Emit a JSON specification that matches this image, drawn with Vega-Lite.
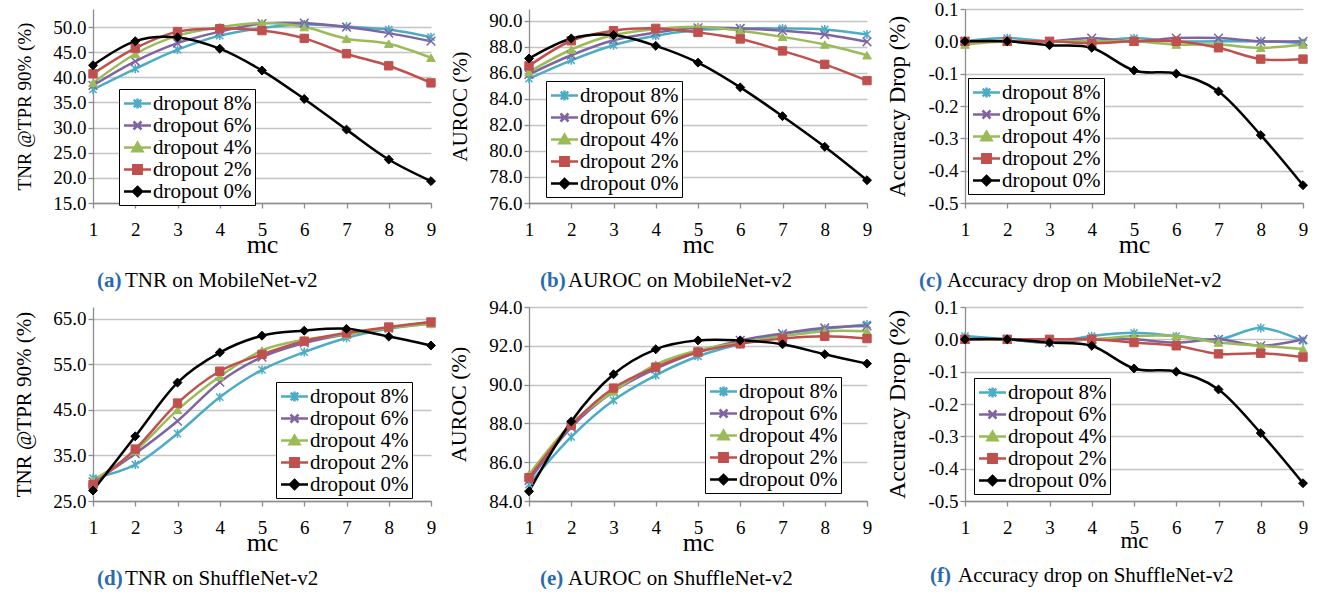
{
  "$schema": "https://vega.github.io/schema/vega-lite/v6.json",
  "background": "white",
  "padding": {"left": 13, "top": 0, "right": 0, "bottom": 0},
  "params": [
    {"name": "legshape", "value": {
      "dropout 8%": "M-1.35,0L1.35,0M-0.38,-0.38L0.38,0.38M-0.38,0.38L0.38,-0.38M0,-0.5L0,0.5",
      "dropout 6%": "M-1.35,0L1.35,0M-0.4,-0.4L0.4,0.4M-0.4,0.4L0.4,-0.4",
      "dropout 4%": "M-1.35,0L1.35,0M0,-0.48L0.5,0.38L-0.5,0.38Z",
      "dropout 2%": "M-1.35,0L1.35,0M-0.42,-0.42L0.42,-0.42L0.42,0.42L-0.42,0.42Z",
      "dropout 0%": "M-1.35,0L1.35,0M0,-0.45L0.45,0L0,0.45L-0.45,0Z"}},
    {"name": "legcolor", "value": {
      "dropout 8%": "#4BACC6", "dropout 6%": "#8064A2", "dropout 4%": "#9BBB59", "dropout 2%": "#C0504D", "dropout 0%": "#000000"}}
  ],
  "data": {"values": [
    {"p":"a","s":"dropout 8%","mc":1,"v":37.6},{"p":"a","s":"dropout 8%","mc":2,"v":41.7},{"p":"a","s":"dropout 8%","mc":3,"v":45.5},{"p":"a","s":"dropout 8%","mc":4,"v":48.3},{"p":"a","s":"dropout 8%","mc":5,"v":49.8},{"p":"a","s":"dropout 8%","mc":6,"v":50.5},{"p":"a","s":"dropout 8%","mc":7,"v":50.1},{"p":"a","s":"dropout 8%","mc":8,"v":49.5},{"p":"a","s":"dropout 8%","mc":9,"v":48.0},
    {"p":"a","s":"dropout 6%","mc":1,"v":38.4},{"p":"a","s":"dropout 6%","mc":2,"v":43.2},{"p":"a","s":"dropout 6%","mc":3,"v":46.8},{"p":"a","s":"dropout 6%","mc":4,"v":49.1},{"p":"a","s":"dropout 6%","mc":5,"v":50.7},{"p":"a","s":"dropout 6%","mc":6,"v":50.8},{"p":"a","s":"dropout 6%","mc":7,"v":50.0},{"p":"a","s":"dropout 6%","mc":8,"v":48.8},{"p":"a","s":"dropout 6%","mc":9,"v":47.2},
    {"p":"a","s":"dropout 4%","mc":1,"v":38.9},{"p":"a","s":"dropout 4%","mc":2,"v":44.65},{"p":"a","s":"dropout 4%","mc":3,"v":48.3},{"p":"a","s":"dropout 4%","mc":4,"v":50.0},{"p":"a","s":"dropout 4%","mc":5,"v":50.8},{"p":"a","s":"dropout 4%","mc":6,"v":50.0},{"p":"a","s":"dropout 4%","mc":7,"v":47.7},{"p":"a","s":"dropout 4%","mc":8,"v":46.7},{"p":"a","s":"dropout 4%","mc":9,"v":43.9},
    {"p":"a","s":"dropout 2%","mc":1,"v":40.7},{"p":"a","s":"dropout 2%","mc":2,"v":45.8},{"p":"a","s":"dropout 2%","mc":3,"v":49.1},{"p":"a","s":"dropout 2%","mc":4,"v":49.7},{"p":"a","s":"dropout 2%","mc":5,"v":49.3},{"p":"a","s":"dropout 2%","mc":6,"v":47.75},{"p":"a","s":"dropout 2%","mc":7,"v":44.7},{"p":"a","s":"dropout 2%","mc":8,"v":42.3},{"p":"a","s":"dropout 2%","mc":9,"v":38.9},
    {"p":"a","s":"dropout 0%","mc":1,"v":42.4},{"p":"a","s":"dropout 0%","mc":2,"v":47.2},{"p":"a","s":"dropout 0%","mc":3,"v":47.95},{"p":"a","s":"dropout 0%","mc":4,"v":45.7},{"p":"a","s":"dropout 0%","mc":5,"v":41.35},{"p":"a","s":"dropout 0%","mc":6,"v":35.7},{"p":"a","s":"dropout 0%","mc":7,"v":29.6},{"p":"a","s":"dropout 0%","mc":8,"v":23.65},{"p":"a","s":"dropout 0%","mc":9,"v":19.35},

    {"p":"b","s":"dropout 8%","mc":1,"v":85.55},{"p":"b","s":"dropout 8%","mc":2,"v":86.96},{"p":"b","s":"dropout 8%","mc":3,"v":88.12},{"p":"b","s":"dropout 8%","mc":4,"v":88.84},{"p":"b","s":"dropout 8%","mc":5,"v":89.28},{"p":"b","s":"dropout 8%","mc":6,"v":89.41},{"p":"b","s":"dropout 8%","mc":7,"v":89.41},{"p":"b","s":"dropout 8%","mc":8,"v":89.33},{"p":"b","s":"dropout 8%","mc":9,"v":88.94},
    {"p":"b","s":"dropout 6%","mc":1,"v":85.88},{"p":"b","s":"dropout 6%","mc":2,"v":87.35},{"p":"b","s":"dropout 6%","mc":3,"v":88.5},{"p":"b","s":"dropout 6%","mc":4,"v":89.1},{"p":"b","s":"dropout 6%","mc":5,"v":89.46},{"p":"b","s":"dropout 6%","mc":6,"v":89.41},{"p":"b","s":"dropout 6%","mc":7,"v":89.23},{"p":"b","s":"dropout 6%","mc":8,"v":88.94},{"p":"b","s":"dropout 6%","mc":9,"v":88.38},
    {"p":"b","s":"dropout 4%","mc":1,"v":86.06},{"p":"b","s":"dropout 4%","mc":2,"v":87.79},{"p":"b","s":"dropout 4%","mc":3,"v":88.9},{"p":"b","s":"dropout 4%","mc":4,"v":89.36},{"p":"b","s":"dropout 4%","mc":5,"v":89.54},{"p":"b","s":"dropout 4%","mc":6,"v":89.23},{"p":"b","s":"dropout 4%","mc":7,"v":88.76},{"p":"b","s":"dropout 4%","mc":8,"v":88.17},{"p":"b","s":"dropout 4%","mc":9,"v":87.35},
    {"p":"b","s":"dropout 2%","mc":1,"v":86.53},{"p":"b","s":"dropout 2%","mc":2,"v":88.46},{"p":"b","s":"dropout 2%","mc":3,"v":89.23},{"p":"b","s":"dropout 2%","mc":4,"v":89.41},{"p":"b","s":"dropout 2%","mc":5,"v":89.1},{"p":"b","s":"dropout 2%","mc":6,"v":88.6},{"p":"b","s":"dropout 2%","mc":7,"v":87.68},{"p":"b","s":"dropout 2%","mc":8,"v":86.65},{"p":"b","s":"dropout 2%","mc":9,"v":85.4},
    {"p":"b","s":"dropout 0%","mc":1,"v":87.1},{"p":"b","s":"dropout 0%","mc":2,"v":88.64},{"p":"b","s":"dropout 0%","mc":3,"v":88.9},{"p":"b","s":"dropout 0%","mc":4,"v":88.07},{"p":"b","s":"dropout 0%","mc":5,"v":86.78},{"p":"b","s":"dropout 0%","mc":6,"v":84.88},{"p":"b","s":"dropout 0%","mc":7,"v":82.67},{"p":"b","s":"dropout 0%","mc":8,"v":80.32},{"p":"b","s":"dropout 0%","mc":9,"v":77.75},

    {"p":"c","s":"dropout 8%","mc":1,"v":0},{"p":"c","s":"dropout 8%","mc":2,"v":0.01},{"p":"c","s":"dropout 8%","mc":3,"v":0},{"p":"c","s":"dropout 8%","mc":4,"v":0},{"p":"c","s":"dropout 8%","mc":5,"v":0.01},{"p":"c","s":"dropout 8%","mc":6,"v":0},{"p":"c","s":"dropout 8%","mc":7,"v":0},{"p":"c","s":"dropout 8%","mc":8,"v":0},{"p":"c","s":"dropout 8%","mc":9,"v":-0.005},
    {"p":"c","s":"dropout 6%","mc":1,"v":0},{"p":"c","s":"dropout 6%","mc":2,"v":0},{"p":"c","s":"dropout 6%","mc":3,"v":0},{"p":"c","s":"dropout 6%","mc":4,"v":0.01},{"p":"c","s":"dropout 6%","mc":5,"v":0},{"p":"c","s":"dropout 6%","mc":6,"v":0.01},{"p":"c","s":"dropout 6%","mc":7,"v":0.01},{"p":"c","s":"dropout 6%","mc":8,"v":0},{"p":"c","s":"dropout 6%","mc":9,"v":0},
    {"p":"c","s":"dropout 4%","mc":1,"v":-0.01},{"p":"c","s":"dropout 4%","mc":2,"v":0},{"p":"c","s":"dropout 4%","mc":3,"v":0},{"p":"c","s":"dropout 4%","mc":4,"v":0},{"p":"c","s":"dropout 4%","mc":5,"v":0},{"p":"c","s":"dropout 4%","mc":6,"v":-0.01},{"p":"c","s":"dropout 4%","mc":7,"v":-0.01},{"p":"c","s":"dropout 4%","mc":8,"v":-0.02},{"p":"c","s":"dropout 4%","mc":9,"v":-0.01},
    {"p":"c","s":"dropout 2%","mc":1,"v":0},{"p":"c","s":"dropout 2%","mc":2,"v":0},{"p":"c","s":"dropout 2%","mc":3,"v":0},{"p":"c","s":"dropout 2%","mc":4,"v":-0.006},{"p":"c","s":"dropout 2%","mc":5,"v":0},{"p":"c","s":"dropout 2%","mc":6,"v":0},{"p":"c","s":"dropout 2%","mc":7,"v":-0.02},{"p":"c","s":"dropout 2%","mc":8,"v":-0.055},{"p":"c","s":"dropout 2%","mc":9,"v":-0.055},
    {"p":"c","s":"dropout 0%","mc":1,"v":0},{"p":"c","s":"dropout 0%","mc":2,"v":0},{"p":"c","s":"dropout 0%","mc":3,"v":-0.012},{"p":"c","s":"dropout 0%","mc":4,"v":-0.02},{"p":"c","s":"dropout 0%","mc":5,"v":-0.09},{"p":"c","s":"dropout 0%","mc":6,"v":-0.1},{"p":"c","s":"dropout 0%","mc":7,"v":-0.155},{"p":"c","s":"dropout 0%","mc":8,"v":-0.29},{"p":"c","s":"dropout 0%","mc":9,"v":-0.445},

    {"p":"d","s":"dropout 8%","mc":1,"v":30.0},{"p":"d","s":"dropout 8%","mc":2,"v":33.0},{"p":"d","s":"dropout 8%","mc":3,"v":39.8},{"p":"d","s":"dropout 8%","mc":4,"v":47.8},{"p":"d","s":"dropout 8%","mc":5,"v":53.8},{"p":"d","s":"dropout 8%","mc":6,"v":57.7},{"p":"d","s":"dropout 8%","mc":7,"v":60.8},{"p":"d","s":"dropout 8%","mc":8,"v":62.8},{"p":"d","s":"dropout 8%","mc":9,"v":63.9},
    {"p":"d","s":"dropout 6%","mc":1,"v":29.2},{"p":"d","s":"dropout 6%","mc":2,"v":35.4},{"p":"d","s":"dropout 6%","mc":3,"v":42.55},{"p":"d","s":"dropout 6%","mc":4,"v":51.1},{"p":"d","s":"dropout 6%","mc":5,"v":56.6},{"p":"d","s":"dropout 6%","mc":6,"v":59.7},{"p":"d","s":"dropout 6%","mc":7,"v":61.6},{"p":"d","s":"dropout 6%","mc":8,"v":63.0},{"p":"d","s":"dropout 6%","mc":9,"v":64.3},
    {"p":"d","s":"dropout 4%","mc":1,"v":29.5},{"p":"d","s":"dropout 4%","mc":2,"v":36.0},{"p":"d","s":"dropout 4%","mc":3,"v":45.0},{"p":"d","s":"dropout 4%","mc":4,"v":52.35},{"p":"d","s":"dropout 4%","mc":5,"v":58.05},{"p":"d","s":"dropout 4%","mc":6,"v":60.4},{"p":"d","s":"dropout 4%","mc":7,"v":61.6},{"p":"d","s":"dropout 4%","mc":8,"v":63.0},{"p":"d","s":"dropout 4%","mc":9,"v":63.9},
    {"p":"d","s":"dropout 2%","mc":1,"v":28.6},{"p":"d","s":"dropout 2%","mc":2,"v":36.4},{"p":"d","s":"dropout 2%","mc":3,"v":46.5},{"p":"d","s":"dropout 2%","mc":4,"v":53.5},{"p":"d","s":"dropout 2%","mc":5,"v":57.2},{"p":"d","s":"dropout 2%","mc":6,"v":60.1},{"p":"d","s":"dropout 2%","mc":7,"v":61.9},{"p":"d","s":"dropout 2%","mc":8,"v":63.2},{"p":"d","s":"dropout 2%","mc":9,"v":64.3},
    {"p":"d","s":"dropout 0%","mc":1,"v":27.3},{"p":"d","s":"dropout 0%","mc":2,"v":39.2},{"p":"d","s":"dropout 0%","mc":3,"v":51.0},{"p":"d","s":"dropout 0%","mc":4,"v":57.6},{"p":"d","s":"dropout 0%","mc":5,"v":61.3},{"p":"d","s":"dropout 0%","mc":6,"v":62.4},{"p":"d","s":"dropout 0%","mc":7,"v":62.8},{"p":"d","s":"dropout 0%","mc":8,"v":61.1},{"p":"d","s":"dropout 0%","mc":9,"v":59.15},

    {"p":"e","s":"dropout 8%","mc":1,"v":84.86},{"p":"e","s":"dropout 8%","mc":2,"v":87.3},{"p":"e","s":"dropout 8%","mc":3,"v":89.19},{"p":"e","s":"dropout 8%","mc":4,"v":90.48},{"p":"e","s":"dropout 8%","mc":5,"v":91.46},{"p":"e","s":"dropout 8%","mc":6,"v":92.1},{"p":"e","s":"dropout 8%","mc":7,"v":92.6},{"p":"e","s":"dropout 8%","mc":8,"v":92.88},{"p":"e","s":"dropout 8%","mc":9,"v":93.1},
    {"p":"e","s":"dropout 6%","mc":1,"v":85.06},{"p":"e","s":"dropout 6%","mc":2,"v":87.8},{"p":"e","s":"dropout 6%","mc":3,"v":89.65},{"p":"e","s":"dropout 6%","mc":4,"v":90.82},{"p":"e","s":"dropout 6%","mc":5,"v":91.68},{"p":"e","s":"dropout 6%","mc":6,"v":92.28},{"p":"e","s":"dropout 6%","mc":7,"v":92.63},{"p":"e","s":"dropout 6%","mc":8,"v":92.93},{"p":"e","s":"dropout 6%","mc":9,"v":93.02},
    {"p":"e","s":"dropout 4%","mc":1,"v":85.37},{"p":"e","s":"dropout 4%","mc":2,"v":87.98},{"p":"e","s":"dropout 4%","mc":3,"v":89.65},{"p":"e","s":"dropout 4%","mc":4,"v":91.03},{"p":"e","s":"dropout 4%","mc":5,"v":91.77},{"p":"e","s":"dropout 4%","mc":6,"v":92.16},{"p":"e","s":"dropout 4%","mc":7,"v":92.49},{"p":"e","s":"dropout 4%","mc":8,"v":92.75},{"p":"e","s":"dropout 4%","mc":9,"v":92.75},
    {"p":"e","s":"dropout 2%","mc":1,"v":85.2},{"p":"e","s":"dropout 2%","mc":2,"v":87.9},{"p":"e","s":"dropout 2%","mc":3,"v":89.82},{"p":"e","s":"dropout 2%","mc":4,"v":90.9},{"p":"e","s":"dropout 2%","mc":5,"v":91.68},{"p":"e","s":"dropout 2%","mc":6,"v":92.1},{"p":"e","s":"dropout 2%","mc":7,"v":92.37},{"p":"e","s":"dropout 2%","mc":8,"v":92.49},{"p":"e","s":"dropout 2%","mc":9,"v":92.37},
    {"p":"e","s":"dropout 0%","mc":1,"v":84.5},{"p":"e","s":"dropout 0%","mc":2,"v":88.1},{"p":"e","s":"dropout 0%","mc":3,"v":90.53},{"p":"e","s":"dropout 0%","mc":4,"v":91.82},{"p":"e","s":"dropout 0%","mc":5,"v":92.28},{"p":"e","s":"dropout 0%","mc":6,"v":92.28},{"p":"e","s":"dropout 0%","mc":7,"v":92.08},{"p":"e","s":"dropout 0%","mc":8,"v":91.56},{"p":"e","s":"dropout 0%","mc":9,"v":91.08},

    {"p":"f","s":"dropout 8%","mc":1,"v":0.01},{"p":"f","s":"dropout 8%","mc":2,"v":0},{"p":"f","s":"dropout 8%","mc":3,"v":-0.01},{"p":"f","s":"dropout 8%","mc":4,"v":0.01},{"p":"f","s":"dropout 8%","mc":5,"v":0.02},{"p":"f","s":"dropout 8%","mc":6,"v":0.01},{"p":"f","s":"dropout 8%","mc":7,"v":0},{"p":"f","s":"dropout 8%","mc":8,"v":0.035},{"p":"f","s":"dropout 8%","mc":9,"v":-0.005},
    {"p":"f","s":"dropout 6%","mc":1,"v":0},{"p":"f","s":"dropout 6%","mc":2,"v":0},{"p":"f","s":"dropout 6%","mc":3,"v":-0.01},{"p":"f","s":"dropout 6%","mc":4,"v":0},{"p":"f","s":"dropout 6%","mc":5,"v":0},{"p":"f","s":"dropout 6%","mc":6,"v":-0.01},{"p":"f","s":"dropout 6%","mc":7,"v":0},{"p":"f","s":"dropout 6%","mc":8,"v":-0.02},{"p":"f","s":"dropout 6%","mc":9,"v":0},
    {"p":"f","s":"dropout 4%","mc":1,"v":0},{"p":"f","s":"dropout 4%","mc":2,"v":0},{"p":"f","s":"dropout 4%","mc":3,"v":0},{"p":"f","s":"dropout 4%","mc":4,"v":0},{"p":"f","s":"dropout 4%","mc":5,"v":0.01},{"p":"f","s":"dropout 4%","mc":6,"v":0.01},{"p":"f","s":"dropout 4%","mc":7,"v":-0.01},{"p":"f","s":"dropout 4%","mc":8,"v":-0.02},{"p":"f","s":"dropout 4%","mc":9,"v":-0.03},
    {"p":"f","s":"dropout 2%","mc":1,"v":0},{"p":"f","s":"dropout 2%","mc":2,"v":0},{"p":"f","s":"dropout 2%","mc":3,"v":0},{"p":"f","s":"dropout 2%","mc":4,"v":0},{"p":"f","s":"dropout 2%","mc":5,"v":-0.01},{"p":"f","s":"dropout 2%","mc":6,"v":-0.02},{"p":"f","s":"dropout 2%","mc":7,"v":-0.045},{"p":"f","s":"dropout 2%","mc":8,"v":-0.043},{"p":"f","s":"dropout 2%","mc":9,"v":-0.055},
    {"p":"f","s":"dropout 0%","mc":1,"v":0},{"p":"f","s":"dropout 0%","mc":2,"v":0},{"p":"f","s":"dropout 0%","mc":3,"v":-0.01},{"p":"f","s":"dropout 0%","mc":4,"v":-0.02},{"p":"f","s":"dropout 0%","mc":5,"v":-0.09},{"p":"f","s":"dropout 0%","mc":6,"v":-0.1},{"p":"f","s":"dropout 0%","mc":7,"v":-0.155},{"p":"f","s":"dropout 0%","mc":8,"v":-0.29},{"p":"f","s":"dropout 0%","mc":9,"v":-0.445}
  ]},
  "columns": 3,
  "bounds": "flush",
  "spacing": {"row": 104, "column": 98},
  "resolve": {"scale": {"color": "independent"}, "legend": {"color": "independent"}},
  "concat": [
    {
      "width": 338, "height": 194,
      "transform": [{"filter": "datum.p === 'a'"}],
      "title": {"text": "(a)", "subtitle": "\u200b\u00a0\u00a0\u00a0\u00a0\u00a0\u200aTNR on MobileNet-v2", "dx": 4},
      "encoding": {
        "x": {"field": "mc", "type": "quantitative", "scale": {"domain": [1, 9], "nice": false, "zero": false}, "axis": {"title": "mc", "values": [1,2,3,4,5,6,7,8,9], "format": "d"}},
        "y": {"field": "v", "type": "quantitative", "scale": {"domain": [15, 53.6], "nice": false, "zero": false}, "axis": {"title": "TNR @TPR 90% (%)", "titleFontSize": 19, "values": [15,20,25,30,35,40,45,50], "format": ".1f"}}
      },
      "layer": [
        {"mark": {"type": "line", "interpolate": "cardinal", "strokeWidth": 2.5},
         "encoding": {"color": {"field": "s", "type": "nominal", "scale": {"domain": ["dropout 8%","dropout 6%","dropout 4%","dropout 2%","dropout 0%"], "range": ["#4BACC6","#8064A2","#9BBB59","#C0504D","#000000"]},
           "legend": {"orient": "none", "legendX": 26, "legendY": 80, "encode": {"symbols": {"update": {"shape": {"signal": "legshape[datum.value]"}, "fill": {"signal": "legcolor[datum.value]"}, "stroke": {"signal": "legcolor[datum.value]"}}}}}}}},
        {"transform": [{"filter": "datum.s === 'dropout 8%'"}], "mark": {"type": "point", "shape": "M-0.8,-0.8L0.8,0.8M-0.8,0.8L0.8,-0.8M0,-1L0,1", "filled": false, "stroke": "#4BACC6", "size": 80, "strokeWidth": 1.5, "opacity": 1}},
        {"transform": [{"filter": "datum.s === 'dropout 6%'"}], "mark": {"type": "point", "shape": "M-1,-1L1,1M-1,1L1,-1", "filled": false, "stroke": "#8064A2", "size": 75, "strokeWidth": 1.5, "opacity": 1}},
        {"transform": [{"filter": "datum.s === 'dropout 4%'"}], "mark": {"type": "point", "shape": "triangle-up", "filled": true, "fill": "#9BBB59", "stroke": "#9BBB59", "size": 75, "strokeWidth": 1, "opacity": 1}},
        {"transform": [{"filter": "datum.s === 'dropout 2%'"}], "mark": {"type": "point", "shape": "square", "filled": true, "fill": "#C0504D", "stroke": "#C0504D", "size": 70, "strokeWidth": 1, "opacity": 1}},
        {"transform": [{"filter": "datum.s === 'dropout 0%'"}], "mark": {"type": "point", "shape": "diamond", "filled": true, "fill": "#000000", "stroke": "#000000", "size": 80, "strokeWidth": 1, "opacity": 1}}
      ]
    },
    {
      "width": 338, "height": 194,
      "transform": [{"filter": "datum.p === 'b'"}],
      "title": {"text": "(b)", "subtitle": "\u200b\u00a0\u00a0\u00a0\u00a0\u00a0\u200aAUROC on MobileNet-v2", "dx": 11},
      "encoding": {
        "x": {"field": "mc", "type": "quantitative", "scale": {"domain": [1, 9], "nice": false, "zero": false}, "axis": {"title": "mc", "values": [1,2,3,4,5,6,7,8,9], "format": "d"}},
        "y": {"field": "v", "type": "quantitative", "scale": {"domain": [76, 90.9], "nice": false, "zero": false}, "axis": {"title": "AUROC (%)", "titleFontSize": 21, "values": [76,78,80,82,84,86,88,90], "format": ".1f"}}
      },
      "layer": [
        {"mark": {"type": "line", "interpolate": "cardinal", "strokeWidth": 2.5},
         "encoding": {"color": {"field": "s", "type": "nominal", "scale": {"domain": ["dropout 8%","dropout 6%","dropout 4%","dropout 2%","dropout 0%"], "range": ["#4BACC6","#8064A2","#9BBB59","#C0504D","#000000"]},
           "legend": {"orient": "none", "legendX": 17, "legendY": 72, "encode": {"symbols": {"update": {"shape": {"signal": "legshape[datum.value]"}, "fill": {"signal": "legcolor[datum.value]"}, "stroke": {"signal": "legcolor[datum.value]"}}}}}}}},
        {"transform": [{"filter": "datum.s === 'dropout 8%'"}], "mark": {"type": "point", "shape": "M-0.8,-0.8L0.8,0.8M-0.8,0.8L0.8,-0.8M0,-1L0,1", "filled": false, "stroke": "#4BACC6", "size": 80, "strokeWidth": 1.5, "opacity": 1}},
        {"transform": [{"filter": "datum.s === 'dropout 6%'"}], "mark": {"type": "point", "shape": "M-1,-1L1,1M-1,1L1,-1", "filled": false, "stroke": "#8064A2", "size": 75, "strokeWidth": 1.5, "opacity": 1}},
        {"transform": [{"filter": "datum.s === 'dropout 4%'"}], "mark": {"type": "point", "shape": "triangle-up", "filled": true, "fill": "#9BBB59", "stroke": "#9BBB59", "size": 75, "strokeWidth": 1, "opacity": 1}},
        {"transform": [{"filter": "datum.s === 'dropout 2%'"}], "mark": {"type": "point", "shape": "square", "filled": true, "fill": "#C0504D", "stroke": "#C0504D", "size": 70, "strokeWidth": 1, "opacity": 1}},
        {"transform": [{"filter": "datum.s === 'dropout 0%'"}], "mark": {"type": "point", "shape": "diamond", "filled": true, "fill": "#000000", "stroke": "#000000", "size": 80, "strokeWidth": 1, "opacity": 1}}
      ]
    },
    {
      "width": 338, "height": 194,
      "transform": [{"filter": "datum.p === 'c'"}],
      "title": {"text": "(c)", "subtitle": "\u200b\u00a0\u00a0\u00a0\u00a0\u00a0\u200aAccuracy drop on MobileNet-v2", "dx": -46},
      "encoding": {
        "x": {"field": "mc", "type": "quantitative", "scale": {"domain": [1, 9], "nice": false, "zero": false}, "axis": {"title": "mc", "values": [1,2,3,4,5,6,7,8,9], "format": "d"}},
        "y": {"field": "v", "type": "quantitative", "scale": {"domain": [-0.5, 0.1], "nice": false, "zero": false}, "axis": {"title": "Accuracy Drop (%)", "titleFontSize": 23, "values": [-0.5,-0.4,-0.3,-0.2,-0.1,0,0.1], "labelExpr": "replace(format(datum.value, '.1f'), '\u2212', '-')"}}
      },
      "layer": [
        {"mark": {"type": "line", "interpolate": "cardinal", "strokeWidth": 2.5},
         "encoding": {"color": {"field": "s", "type": "nominal", "scale": {"domain": ["dropout 8%","dropout 6%","dropout 4%","dropout 2%","dropout 0%"], "range": ["#4BACC6","#8064A2","#9BBB59","#C0504D","#000000"]},
           "legend": {"orient": "none", "legendX": 3, "legendY": 69, "encode": {"symbols": {"update": {"shape": {"signal": "legshape[datum.value]"}, "fill": {"signal": "legcolor[datum.value]"}, "stroke": {"signal": "legcolor[datum.value]"}}}}}}}},
        {"transform": [{"filter": "datum.s === 'dropout 8%'"}], "mark": {"type": "point", "shape": "M-0.8,-0.8L0.8,0.8M-0.8,0.8L0.8,-0.8M0,-1L0,1", "filled": false, "stroke": "#4BACC6", "size": 80, "strokeWidth": 1.5, "opacity": 1}},
        {"transform": [{"filter": "datum.s === 'dropout 6%'"}], "mark": {"type": "point", "shape": "M-1,-1L1,1M-1,1L1,-1", "filled": false, "stroke": "#8064A2", "size": 75, "strokeWidth": 1.5, "opacity": 1}},
        {"transform": [{"filter": "datum.s === 'dropout 4%'"}], "mark": {"type": "point", "shape": "triangle-up", "filled": true, "fill": "#9BBB59", "stroke": "#9BBB59", "size": 75, "strokeWidth": 1, "opacity": 1}},
        {"transform": [{"filter": "datum.s === 'dropout 2%'"}], "mark": {"type": "point", "shape": "square", "filled": true, "fill": "#C0504D", "stroke": "#C0504D", "size": 70, "strokeWidth": 1, "opacity": 1}},
        {"transform": [{"filter": "datum.s === 'dropout 0%'"}], "mark": {"type": "point", "shape": "diamond", "filled": true, "fill": "#000000", "stroke": "#000000", "size": 80, "strokeWidth": 1, "opacity": 1}}
      ]
    },
    {
      "width": 338, "height": 194,
      "transform": [{"filter": "datum.p === 'd'"}],
      "title": {"text": "(d)", "subtitle": "\u200b\u00a0\u00a0\u00a0\u00a0\u00a0\u200aTNR on ShuffleNet-v2", "dx": 4},
      "encoding": {
        "x": {"field": "mc", "type": "quantitative", "scale": {"domain": [1, 9], "nice": false, "zero": false}, "axis": {"title": "mc", "values": [1,2,3,4,5,6,7,8,9], "format": "d"}},
        "y": {"field": "v", "type": "quantitative", "scale": {"domain": [25, 67.6], "nice": false, "zero": false}, "axis": {"title": "TNR @TPR 90% (%)", "titleFontSize": 21, "values": [25,35,45,55,65], "format": ".1f"}}
      },
      "layer": [
        {"mark": {"type": "line", "interpolate": "cardinal", "strokeWidth": 2.5},
         "encoding": {"color": {"field": "s", "type": "nominal", "scale": {"domain": ["dropout 8%","dropout 6%","dropout 4%","dropout 2%","dropout 0%"], "range": ["#4BACC6","#8064A2","#9BBB59","#C0504D","#000000"]},
           "legend": {"orient": "none", "legendX": 183, "legendY": 75, "encode": {"symbols": {"update": {"shape": {"signal": "legshape[datum.value]"}, "fill": {"signal": "legcolor[datum.value]"}, "stroke": {"signal": "legcolor[datum.value]"}}}}}}}},
        {"transform": [{"filter": "datum.s === 'dropout 8%'"}], "mark": {"type": "point", "shape": "M-0.8,-0.8L0.8,0.8M-0.8,0.8L0.8,-0.8M0,-1L0,1", "filled": false, "stroke": "#4BACC6", "size": 80, "strokeWidth": 1.5, "opacity": 1}},
        {"transform": [{"filter": "datum.s === 'dropout 6%'"}], "mark": {"type": "point", "shape": "M-1,-1L1,1M-1,1L1,-1", "filled": false, "stroke": "#8064A2", "size": 75, "strokeWidth": 1.5, "opacity": 1}},
        {"transform": [{"filter": "datum.s === 'dropout 4%'"}], "mark": {"type": "point", "shape": "triangle-up", "filled": true, "fill": "#9BBB59", "stroke": "#9BBB59", "size": 75, "strokeWidth": 1, "opacity": 1}},
        {"transform": [{"filter": "datum.s === 'dropout 2%'"}], "mark": {"type": "point", "shape": "square", "filled": true, "fill": "#C0504D", "stroke": "#C0504D", "size": 70, "strokeWidth": 1, "opacity": 1}},
        {"transform": [{"filter": "datum.s === 'dropout 0%'"}], "mark": {"type": "point", "shape": "diamond", "filled": true, "fill": "#000000", "stroke": "#000000", "size": 80, "strokeWidth": 1, "opacity": 1}}
      ]
    },
    {
      "width": 338, "height": 194,
      "transform": [{"filter": "datum.p === 'e'"}],
      "title": {"text": "(e)", "subtitle": "\u200b\u00a0\u00a0\u00a0\u00a0\u00a0\u200aAUROC on ShuffleNet-v2", "dx": 11},
      "encoding": {
        "x": {"field": "mc", "type": "quantitative", "scale": {"domain": [1, 9], "nice": false, "zero": false}, "axis": {"title": "mc", "values": [1,2,3,4,5,6,7,8,9], "format": "d"}},
        "y": {"field": "v", "type": "quantitative", "scale": {"domain": [84, 94], "nice": false, "zero": false}, "axis": {"title": "AUROC (%)", "titleFontSize": 22, "values": [84,86,88,90,92,94], "format": ".1f"}}
      },
      "layer": [
        {"mark": {"type": "line", "interpolate": "cardinal", "strokeWidth": 2.5},
         "encoding": {"color": {"field": "s", "type": "nominal", "scale": {"domain": ["dropout 8%","dropout 6%","dropout 4%","dropout 2%","dropout 0%"], "range": ["#4BACC6","#8064A2","#9BBB59","#C0504D","#000000"]},
           "legend": {"orient": "none", "legendX": 176, "legendY": 70, "encode": {"symbols": {"update": {"shape": {"signal": "legshape[datum.value]"}, "fill": {"signal": "legcolor[datum.value]"}, "stroke": {"signal": "legcolor[datum.value]"}}}}}}}},
        {"transform": [{"filter": "datum.s === 'dropout 8%'"}], "mark": {"type": "point", "shape": "M-0.8,-0.8L0.8,0.8M-0.8,0.8L0.8,-0.8M0,-1L0,1", "filled": false, "stroke": "#4BACC6", "size": 80, "strokeWidth": 1.5, "opacity": 1}},
        {"transform": [{"filter": "datum.s === 'dropout 6%'"}], "mark": {"type": "point", "shape": "M-1,-1L1,1M-1,1L1,-1", "filled": false, "stroke": "#8064A2", "size": 75, "strokeWidth": 1.5, "opacity": 1}},
        {"transform": [{"filter": "datum.s === 'dropout 4%'"}], "mark": {"type": "point", "shape": "triangle-up", "filled": true, "fill": "#9BBB59", "stroke": "#9BBB59", "size": 75, "strokeWidth": 1, "opacity": 1}},
        {"transform": [{"filter": "datum.s === 'dropout 2%'"}], "mark": {"type": "point", "shape": "square", "filled": true, "fill": "#C0504D", "stroke": "#C0504D", "size": 70, "strokeWidth": 1, "opacity": 1}},
        {"transform": [{"filter": "datum.s === 'dropout 0%'"}], "mark": {"type": "point", "shape": "diamond", "filled": true, "fill": "#000000", "stroke": "#000000", "size": 80, "strokeWidth": 1, "opacity": 1}}
      ]
    },
    {
      "width": 338, "height": 194,
      "transform": [{"filter": "datum.p === 'f'"}],
      "title": {"text": "(f)", "subtitle": "\u200b\u00a0\u00a0\u00a0\u00a0\u00a0\u200aAccuracy drop on ShuffleNet-v2", "dx": -35},
      "encoding": {
        "x": {"field": "mc", "type": "quantitative", "scale": {"domain": [1, 9], "nice": false, "zero": false}, "axis": {"title": "mc", "titleFontSize": 23, "values": [1,2,3,4,5,6,7,8,9], "format": "d"}},
        "y": {"field": "v", "type": "quantitative", "scale": {"domain": [-0.5, 0.1], "nice": false, "zero": false}, "axis": {"title": "Accuracy Drop (%)", "titleFontSize": 24, "values": [-0.5,-0.4,-0.3,-0.2,-0.1,0,0.1], "labelExpr": "replace(format(datum.value, '.1f'), '\u2212', '-')"}}
      },
      "layer": [
        {"mark": {"type": "line", "interpolate": "cardinal", "strokeWidth": 2.5},
         "encoding": {"color": {"field": "s", "type": "nominal", "scale": {"domain": ["dropout 8%","dropout 6%","dropout 4%","dropout 2%","dropout 0%"], "range": ["#4BACC6","#8064A2","#9BBB59","#C0504D","#000000"]},
           "legend": {"orient": "none", "legendX": 9, "legendY": 71, "encode": {"symbols": {"update": {"shape": {"signal": "legshape[datum.value]"}, "fill": {"signal": "legcolor[datum.value]"}, "stroke": {"signal": "legcolor[datum.value]"}}}}}}}},
        {"transform": [{"filter": "datum.s === 'dropout 8%'"}], "mark": {"type": "point", "shape": "M-0.8,-0.8L0.8,0.8M-0.8,0.8L0.8,-0.8M0,-1L0,1", "filled": false, "stroke": "#4BACC6", "size": 80, "strokeWidth": 1.5, "opacity": 1}},
        {"transform": [{"filter": "datum.s === 'dropout 6%'"}], "mark": {"type": "point", "shape": "M-1,-1L1,1M-1,1L1,-1", "filled": false, "stroke": "#8064A2", "size": 75, "strokeWidth": 1.5, "opacity": 1}},
        {"transform": [{"filter": "datum.s === 'dropout 4%'"}], "mark": {"type": "point", "shape": "triangle-up", "filled": true, "fill": "#9BBB59", "stroke": "#9BBB59", "size": 75, "strokeWidth": 1, "opacity": 1}},
        {"transform": [{"filter": "datum.s === 'dropout 2%'"}], "mark": {"type": "point", "shape": "square", "filled": true, "fill": "#C0504D", "stroke": "#C0504D", "size": 70, "strokeWidth": 1, "opacity": 1}},
        {"transform": [{"filter": "datum.s === 'dropout 0%'"}], "mark": {"type": "point", "shape": "diamond", "filled": true, "fill": "#000000", "stroke": "#000000", "size": 80, "strokeWidth": 1, "opacity": 1}}
      ]
    }
  ],
  "config": {
    "view": {"stroke": null},
    "font": "Liberation Serif, Times New Roman, serif",
    "style": {"guide-label": {"font": "Liberation Serif, Times New Roman, serif", "fill": "#000000"}, "guide-title": {"font": "Liberation Serif, Times New Roman, serif", "fill": "#000000"}},
    "axis": {"labelFont": "Liberation Serif, Times New Roman, serif", "titleFont": "Liberation Serif, Times New Roman, serif", "labelColor": "#000000", "titleColor": "#000000", "titleFontWeight": "normal", "labelFontSize": 19, "domainColor": "#8C8C8C", "tickColor": "#8C8C8C", "gridColor": "#C4C4C4", "gridWidth": 1.3, "domainWidth": 1.3, "tickWidth": 1.3},
    "axisX": {"grid": false, "tickSize": 5, "labelPadding": 12, "titleFontSize": 26, "titlePadding": -8, "labelFlush": false},
    "axisY": {"tickSize": 5, "labelPadding": 2, "titlePadding": 18},
    "legend": {"title": null, "labelFont": "Liberation Serif, Times New Roman, serif", "labelFontSize": 21, "labelColor": "#000000", "symbolSize": 400, "symbolStrokeWidth": 2.5, "symbolOffset": 4, "labelOffset": 4, "rowPadding": 0, "padding": 3, "strokeColor": "#000000", "fillColor": "#ffffff", "cornerRadius": 0, "labelLimit": 0},
    "title": {"orient": "bottom", "anchor": "start", "frame": "group", "offset": 13, "font": "Liberation Serif, Times New Roman, serif", "fontSize": 21, "fontWeight": "bold", "color": "#2A6BB0", "subtitleFont": "Liberation Serif, Times New Roman, serif", "subtitleFontSize": 21, "subtitleColor": "#000000", "subtitleFontWeight": "normal", "subtitlePadding": -21}
  }
}
